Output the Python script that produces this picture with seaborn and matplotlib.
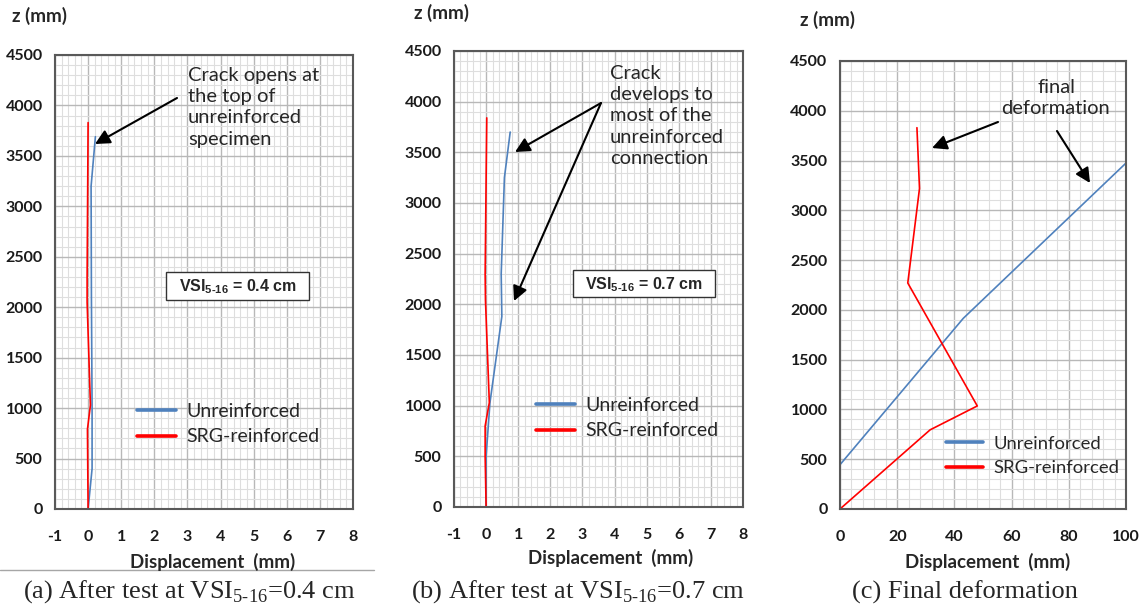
import numpy as np
import pandas as pd
import seaborn as sns
import matplotlib.pyplot as plt
from matplotlib.lines import Line2D
from matplotlib.patches import Rectangle
from matplotlib.ticker import MultipleLocator

# Data: displacement (mm) vs height z (mm)
a_unr_x = [0.0, 0.12, 0.12, 0.10, 0.09, 0.22]
a_unr_z = [0, 400, 1000, 2100, 3200, 3690]
a_srg_x = [0.0, -0.02, 0.07, -0.03, -0.03, 0.0]
a_srg_z = [0, 790, 1030, 2050, 2300, 3830]

b_unr_x = [0.0, 0.0, 0.12, 0.49, 0.47, 0.57, 0.75]
b_unr_z = [0, 500, 1030, 1880, 2300, 3250, 3700]
b_srg_x = [0.0, -0.03, -0.03, 0.10, -0.02, -0.03, 0.02]
b_srg_z = [0, 500, 800, 1030, 2040, 2300, 3840]

c_unr_x = [0.0, 0.0, 43.1, 100.0]
c_unr_z = [0, 445, 1915, 3475]
c_srg_x = [0.0, 31.5, 48.0, 23.7, 27.8, 26.9]
c_srg_z = [0, 795, 1035, 2270, 3220, 3830]

series = ['Unreinforced', 'SRG-reinforced']
palette = {'Unreinforced': '#4f81bd', 'SRG-reinforced': '#ff0000'}

W, H = 1145, 609

sns.set_style('white')
plt.rcParams['font.family'] = ['Lato', 'DejaVu Sans']
plt.rcParams['font.weight'] = 'bold'      # tick labels are bold
plt.rcParams['axes.unicode_minus'] = False


def frame(ux, uz, sx, sz):
    d1 = pd.DataFrame({'disp': ux, 'z': uz, 'spec': series[0]})
    d2 = pd.DataFrame({'disp': sx, 'z': sz, 'spec': series[1]})
    return pd.concat([d1, d2], ignore_index=True)


def pfx(x, y):
    # figure pixel (from top-left) -> figure fraction
    return x / W, 1 - y / H


fig = plt.figure(figsize=(W / 100, H / 100), dpi=100)

panels = [
    dict(rect=(55, 55, 353, 509), data=frame(a_unr_x, a_unr_z, a_srg_x, a_srg_z),
         xlim=(-1, 8), xmaj=1, xmin=0.2),
    dict(rect=(454, 51, 743, 507), data=frame(b_unr_x, b_unr_z, b_srg_x, b_srg_z),
         xlim=(-1, 8), xmaj=1, xmin=0.2),
    dict(rect=(840, 61, 1126, 509), data=frame(c_unr_x, c_unr_z, c_srg_x, c_srg_z),
         xlim=(0, 100), xmaj=20, xmin=4),
]

axes = []
for p in panels:
    l, t, r, b = p['rect']
    ax = fig.add_axes([l / W, 1 - b / H, (r - l) / W, (b - t) / H])
    sns.lineplot(data=p['data'], x='disp', y='z', hue='spec', units='spec',
                 estimator=None, sort=False, palette=palette, hue_order=series,
                 lw=1.2, legend=False, ax=ax)
    ax.set_xlim(*p['xlim'])
    ax.set_ylim(0, 4500)
    ax.xaxis.set_major_locator(MultipleLocator(p['xmaj']))
    ax.xaxis.set_minor_locator(MultipleLocator(p['xmin']))
    ax.yaxis.set_major_locator(MultipleLocator(500))
    ax.yaxis.set_minor_locator(MultipleLocator(100))
    ax.grid(which='major', color='#b8b8b8', lw=1.0)
    ax.grid(which='minor', color='#dedede', lw=0.8)
    ax.set_axisbelow(True)
    for s in ax.spines.values():
        s.set_color('#595959')
        s.set_linewidth(1.5)
    ax.tick_params(which='major', length=3, width=1, color='#595959',
                   labelsize=11.5, pad=12, direction='out', labelcolor='#1a1a1a')
    ax.tick_params(axis='y', pad=6)
    ax.tick_params(which='minor', length=0)
    ax.set_xlabel('')
    ax.set_ylabel('')
    axes.append(ax)

# axis titles
for (x, y) in [(40, 16), (441, 13), (827, 20)]:
    fig.text(*pfx(x, y), 'z (mm)', ha='center', va='center', fontsize=13.5, fontweight='bold')
for (x, y) in [(213, 562), (611, 558), (988, 562)]:
    fig.text(*pfx(x, y), 'Displacement  (mm)', ha='center', va='center',
             fontsize=13.5, fontweight='bold')

# legends
leg_handles = [Line2D([], [], color=palette[s], lw=2.6) for s in series]
for ax, (x, y), fs in zip(axes, [(137, 424), (536, 418), (946, 456)], [14, 14, 13.3]):
    ax.legend(leg_handles, series, loc='center left', bbox_to_anchor=pfx(x, y),
              bbox_transform=fig.transFigure, frameon=False,
              prop=dict(size=fs, weight='normal'),
              handlelength=2.0, handletextpad=0.55, labelspacing=0.45,
              borderpad=0, borderaxespad=0)

# VSI boxes
for (l, t, r, b), txt in [((166, 272, 309, 300), '0.4'), ((573, 270, 715, 297), '0.7')]:
    x0, y0 = pfx(l, b)
    fig.add_artist(Rectangle((x0, y0), (r - l) / W, (b - t) / H, transform=fig.transFigure,
                             facecolor='white', edgecolor='#333333', lw=1.0, zorder=5))
    fig.text(*pfx((l + r) / 2, (t + b) / 2 + 1), 'VSI$_{\\mathregular{5\u201016}}$ = ' + txt + ' cm',
             ha='center', va='center', fontsize=11.5, fontweight='bold',
             family=['Liberation Sans', 'DejaVu Sans'], zorder=6)

# annotations
arrow = dict(arrowstyle='-|>', color='black', lw=1.5, mutation_scale=22, shrinkA=0, shrinkB=0)


def note(ax, start, end):
    ax.annotate('', xy=(end[0], H - end[1]), xytext=(start[0], H - start[1]),
                xycoords='figure pixels', textcoords='figure pixels',
                arrowprops=arrow, annotation_clip=False)


fig.text(*pfx(188, 67), 'Crack opens at\nthe top of\nunreinforced\nspecimen',
         ha='left', va='top', fontsize=14.5, linespacing=1.3, fontweight='normal')
note(axes[0], (177, 98), (95, 144))

fig.text(*pfx(610, 65), 'Crack\ndevelops to\nmost of the\nunreinforced\nconnection',
         ha='left', va='top', fontsize=14.5, linespacing=1.3, fontweight='normal')
note(axes[1], (601, 103), (515, 152))
note(axes[1], (601, 103), (514, 301))

fig.text(*pfx(1056, 79), 'final\ndeformation', ha='center', va='top', fontsize=14.5,
         linespacing=1.3, fontweight='normal')
note(axes[2], (998, 122), (932, 148))
note(axes[2], (1057, 131), (1090, 183))

# captions
serif = ['Liberation Serif', 'DejaVu Serif']
caps = [(189, '(a) After test at VSI$_{\\mathregular{5\u201016}}$=0.4 cm'),
        (578, '(b) After test at VSI$_{\\mathregular{5\u201016}}$=0.7 cm'),
        (965, '(c) Final deformation')]
for x, txt in caps:
    fig.text(*pfx(x, 592), txt, ha='center', va='center', fontsize=19, family=serif,
             fontweight='normal')

fig.add_artist(Line2D([0, 374 / W], [1 - 570 / H] * 2, transform=fig.transFigure,
                      color='#a6a6a6', lw=1.0))

fig.savefig('out.png', dpi=100)
